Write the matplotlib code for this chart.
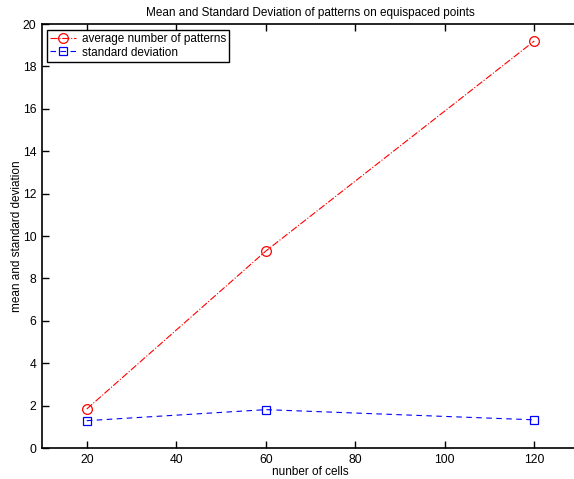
#!/usr/bin/env python3
import matplotlib
matplotlib.use("Agg")
import matplotlib.pyplot as plt

# ── data ────────────────────────────────────────────────────────────────────
CELLS = [20, 60, 120]
MEAN_PATTERNS = [1.84, 9.29, 19.2]
STD_DEV = [1.29, 1.81, 1.33]
X_TICKS = [20, 40, 60, 80, 100, 120]
Y_TICKS = [0, 2, 4, 6, 8, 10, 12, 14, 16, 18, 20]
# ─────────────────────────────────────────────────────────────────────────────

plt.rcParams["font.family"] = ["Liberation Sans", "DejaVu Sans"]
plt.rcParams["font.size"] = 8


def main():
    fig = plt.figure(figsize=(5.74, 4.79), dpi=100)
    # axes runs a little past the right edge, as in the reference
    ax = fig.add_axes([0.0732, 0.0647, 0.9355, 0.885])

    ax.plot(CELLS, MEAN_PATTERNS, color="red", linestyle="-.", linewidth=0.8,
            marker="o", markersize=7, markerfacecolor="none",
            markeredgecolor="red", markeredgewidth=0.9,
            label="average number of patterns")
    ax.plot(CELLS, STD_DEV, color="blue", linestyle="--", linewidth=0.8,
            dashes=(5, 4),
            marker="s", markersize=6, markerfacecolor="none",
            markeredgecolor="blue", markeredgewidth=0.9,
            label="standard deviation")

    ax.set_xlim(10, 130)
    ax.set_ylim(0, 20)
    ax.set_xticks(X_TICKS)
    ax.set_yticks(Y_TICKS)
    ax.tick_params(direction="in", length=5, width=1, top=True, right=False,
                   labelsize=8.7, pad=4)
    for sp in ax.spines.values():
        sp.set_linewidth(1.2)

    ax.set_title("Mean and Standard Deviation of patterns on equispaced points",
                 fontsize=8.5, pad=6)
    ax.set_xlabel("nunber of cells", fontsize=8.5, labelpad=0.5)
    ax.set_ylabel("mean and standard deviation", fontsize=8.5, labelpad=0)

    leg = ax.legend(loc="upper left", bbox_to_anchor=(0.01, 0.985),
                    fancybox=False, framealpha=1, edgecolor="black",
                    fontsize=8.5, handlelength=2.2, handletextpad=0.5,
                    borderpad=0.25, labelspacing=0.1, borderaxespad=0)
    leg.get_frame().set_linewidth(1.0)

    fig.savefig("out.png", dpi=100)


if __name__ == "__main__":
    main()
